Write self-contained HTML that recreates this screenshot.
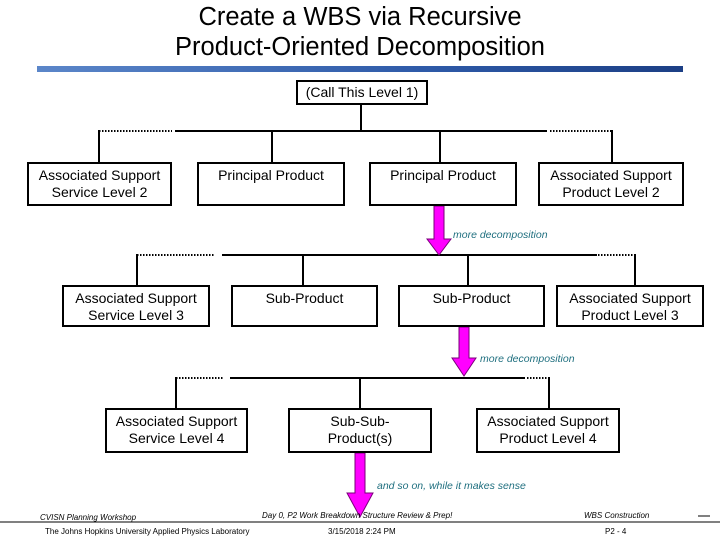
<!DOCTYPE html>
<html><head><style>
body{margin:0;width:720px;height:540px;background:#fff;overflow:hidden;font-family:"Liberation Sans",sans-serif;position:relative}
.t{position:absolute;left:0;width:720px;text-align:center;font-size:25.5px;color:#000;line-height:30px}
.b{position:absolute;border:2px solid #000;box-sizing:border-box;text-align:center;font-size:14px;line-height:17px;padding-top:3px;background:#fff;white-space:nowrap}
.f{position:absolute;font-size:8px;font-style:italic;color:#000;white-space:nowrap}
.g{position:absolute;font-size:8px;color:#000;white-space:nowrap}
.lbl{position:absolute;font-size:10.5px;font-style:italic;color:#1f6f7f;white-space:nowrap}
</style></head><body>
<div class="t" style="top:2px">Create a WBS via Recursive</div>
<div class="t" style="top:32px">Product-Oriented Decomposition</div>
<div style="position:absolute;left:37px;top:66px;width:646px;height:6px;background:linear-gradient(90deg,#5b86c9,#2e5aa8 60%,#1c3f85)"></div>
<svg width="720" height="540" style="position:absolute;left:0;top:0">
<g stroke="#000" stroke-width="2" fill="none">
<line x1="361" y1="105" x2="361" y2="131"/>
<line x1="175" y1="131" x2="547" y2="131"/>
<line x1="99" y1="131" x2="172" y2="131" stroke-dasharray="1.5,1.5"/>
<line x1="550" y1="131" x2="611" y2="131" stroke-dasharray="1.5,1.5"/>
<line x1="99" y1="130" x2="99" y2="162"/><line x1="272" y1="131" x2="272" y2="162"/><line x1="440" y1="131" x2="440" y2="162"/><line x1="612" y1="130" x2="612" y2="162"/>
<line x1="222" y1="255" x2="597" y2="255"/>
<line x1="137" y1="255" x2="215" y2="255" stroke-dasharray="1.5,1.5"/>
<line x1="598" y1="255" x2="634" y2="255" stroke-dasharray="1.5,1.5"/>
<line x1="137" y1="254" x2="137" y2="285"/><line x1="303" y1="255" x2="303" y2="285"/><line x1="468" y1="255" x2="468" y2="285"/><line x1="635" y1="254" x2="635" y2="285"/>
<line x1="230" y1="378" x2="525" y2="378"/>
<line x1="176" y1="378" x2="224" y2="378" stroke-dasharray="1.5,1.5"/>
<line x1="527" y1="378" x2="548" y2="378" stroke-dasharray="1.5,1.5"/>
<line x1="176" y1="377" x2="176" y2="408"/><line x1="360" y1="378" x2="360" y2="408"/><line x1="549" y1="377" x2="549" y2="408"/>
<line x1="0" y1="522" x2="720" y2="522" stroke-width="1"/>
<line x1="698" y1="516" x2="710" y2="516" stroke-width="1"/>
</g>
<g fill="#ff00ff" stroke="#7a007a" stroke-width="1">
<polygon points="434,206 444,206 444,239 451,239 439,255 427,239 434,239"/>
<polygon points="459,327 469,327 469,358 476,358 464,376 452,358 459,358"/>
<polygon points="355,453 365,453 365,493 373,493 360,517 347,493 355,493"/>
</g>
</svg>
<div class="b" style="left:296px;top:80px;width:132px;height:25px;padding-top:2px">(Call This Level 1)</div>
<div class="b" style="left:27px;top:162px;width:145px;height:44px">Associated Support<br>Service Level 2</div>
<div class="b" style="left:197px;top:162px;width:148px;height:44px">Principal Product</div>
<div class="b" style="left:369px;top:162px;width:148px;height:44px">Principal Product</div>
<div class="b" style="left:538px;top:162px;width:146px;height:44px">Associated Support<br>Product Level 2</div>
<div class="b" style="left:62px;top:285px;width:148px;height:42px">Associated Support<br>Service Level 3</div>
<div class="b" style="left:231px;top:285px;width:147px;height:42px">Sub-Product</div>
<div class="b" style="left:398px;top:285px;width:147px;height:42px">Sub-Product</div>
<div class="b" style="left:556px;top:285px;width:148px;height:42px">Associated Support<br>Product Level 3</div>
<div class="b" style="left:105px;top:408px;width:143px;height:45px">Associated Support<br>Service Level 4</div>
<div class="b" style="left:288px;top:408px;width:144px;height:45px">Sub-Sub-<br>Product(s)</div>
<div class="b" style="left:476px;top:408px;width:144px;height:45px">Associated Support<br>Product Level 4</div>
<div class="lbl" style="left:453px;top:229px">more decomposition</div>
<div class="lbl" style="left:480px;top:353px">more decomposition</div>
<div class="lbl" style="left:377px;top:480px">and so on, while it makes sense</div>
<div class="f" style="left:40px;top:513px">CVISN Planning Workshop</div>
<div class="f" style="left:262px;top:511px">Day 0, P2 Work Breakdown Structure Review &amp; Prep!</div>
<div class="f" style="left:584px;top:511px">WBS Construction</div>
<div class="g" style="left:45px;top:527px">The Johns Hopkins University Applied Physics Laboratory</div>
<div class="g" style="left:328px;top:527px">3/15/2018 2:24 PM</div>
<div class="g" style="left:605px;top:527px">P2 - 4</div>
</body></html>
